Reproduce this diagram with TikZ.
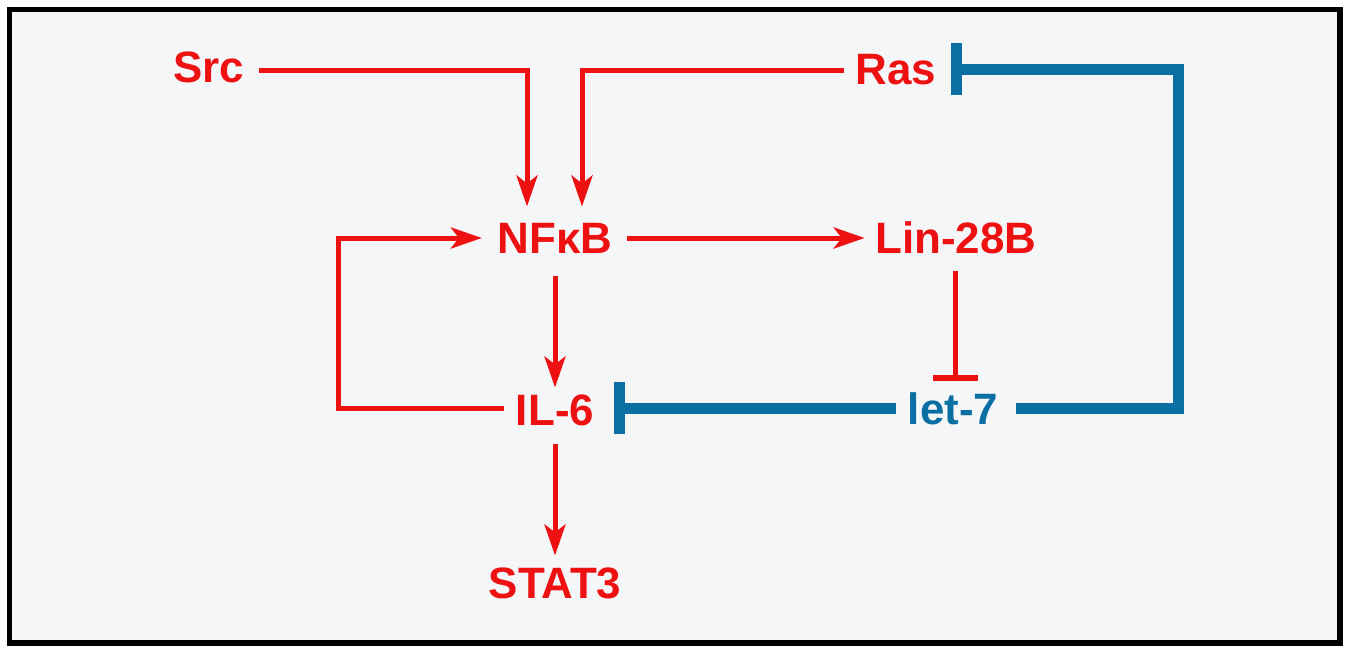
\documentclass[tikz,border=0pt]{standalone}
\usepackage{fontspec}
\setmainfont{Liberation Sans}
\usepackage{tikz}
\usetikzlibrary{arrows.meta,calc}
\definecolor{duongdo}{HTML}{EE1111}
\definecolor{duongxanh}{HTML}{0B6FA4}
\definecolor{nennhat}{HTML}{F4F6F8}
\begin{document}
\begin{tikzpicture}[x=0.1mm,y=-0.1mm,
	gen/.style={inner sep=0pt,text height=9pt,text depth=0pt,
		font=\bfseries\fontsize{12.5}{15}\selectfont,text=duongdo},
	genx/.style={gen,text=duongxanh},
	kichthich/.style={duongdo,line width=0.5mm,-{Stealth[length=3.1mm,width=2.1mm,inset=0.8mm]}},
	ucchedo/.style={duongdo,line width=0.5mm,-{Bar[width=4.5mm,line width=0.6mm]}},
	ucchexanh/.style={duongxanh,line width=1.1mm,-{Bar[width=5.2mm]}}]
	\useasboundingbox (0,0) rectangle (1352,646);
	\draw[line width=0.55mm,fill=nennhat] (9.5,9.5) rectangle (1340,643);
	\node[gen] (src) at (209,67) {Src};
	\node[gen] (ras) at (896,69) {Ras};
	\node[gen] (nfkb) at (555,238) {NFκB};
	\node[gen] (lin) at (956,238) {Lin-28B};
	\node[gen] (il6) at (555,410) {IL-6};
	\node[genx] (let7) at (953,409) {let-7};
	\node[gen] (stat3) at (555,583) {STAT3};
	\draw[kichthich] ($(src.east)+(14,3)$) -| ($(nfkb.north)+(-28,-15)$);
	\draw[kichthich] ($(ras.west)+(-11,1)$) -| ($(nfkb.north)+(27,-15)$);
	\draw[kichthich] ($(nfkb.east)+(14,0)$) -- ($(lin.west)+(-10,0)$);
	\draw[kichthich] ($(nfkb.south)+(0,21)$) -- ($(il6.north)+(0,-6)$);
	\draw[kichthich] ($(il6.west)+(-11,-2)$) -| ($(nfkb.west)+(-158,0)$) -- ($(nfkb.west)+(-15,0)$);
	\draw[kichthich] ($(il6.south)+(0,17)$) -- ($(stat3.north)+(0,-11)$);
	\draw[ucchedo] ($(lin.south)+(-1,16)$) -- ($(let7.north)+(2,-11)$);
	\draw[ucchexanh] ($(let7.west)+(-11,-1)$) -- ($(il6.east)+(19,-2)$);
	\draw[ucchexanh] ($(let7.east)+(17,-1)$) -| ($(ras.east)+(241,0)$) -- ($(ras.east)+(14,0)$);
\end{tikzpicture}
\end{document}
